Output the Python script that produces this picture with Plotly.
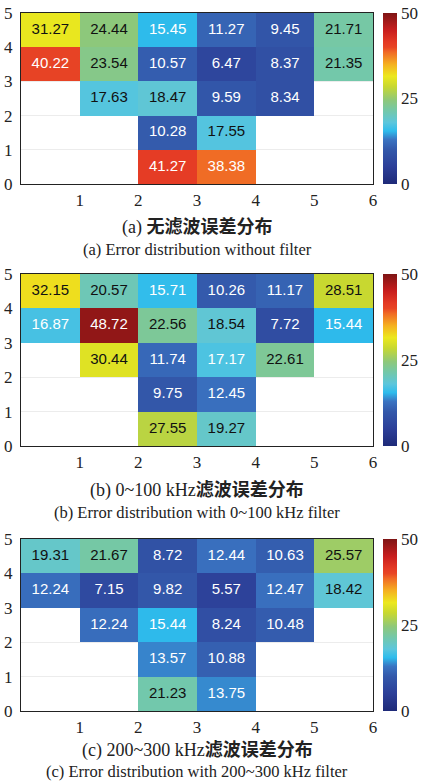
import plotly.graph_objects as go

# ---------------- data ----------------
x_edges = [0, 1, 2, 3, 4, 5, 6]
y_edges = [0, 1, 2, 3, 4, 5]
x_ticks = [1, 2, 3, 4, 5, 6]
y_ticks = [0, 1, 2, 3, 4, 5]
cbar_ticks = [0, 25, 50]

# rows listed bottom (y 0-1) to top (y 4-5)
z_a = [
    [None, None, 41.27, 38.38, None, None],
    [None, None, 10.28, 17.55, None, None],
    [None, 17.63, 18.47, 9.59, 8.34, None],
    [40.22, 23.54, 10.57, 6.47, 8.37, 21.35],
    [31.27, 24.44, 15.45, 11.27, 9.45, 21.71],
]
z_b = [
    [None, None, 27.55, 19.27, None, None],
    [None, None, 9.75, 12.45, None, None],
    [None, 30.44, 11.74, 17.17, 22.61, None],
    [16.87, 48.72, 22.56, 18.54, 7.72, 15.44],
    [32.15, 20.57, 15.71, 10.26, 11.17, 28.51],
]
z_c = [
    [None, None, 21.23, 13.75, None, None],
    [None, None, 13.57, 10.88, None, None],
    [None, 12.24, 15.44, 8.24, 10.48, None],
    [12.24, 7.15, 9.82, 5.57, 12.47, 18.42],
    [19.31, 21.67, 8.72, 12.44, 10.63, 25.57],
]
titles_lead = ["(a) ", "(b) 0~100 kHz", "(c) 200~300 kHz"]
titles_cn = ["无滤波误差分布", "滤波误差分布", "滤波误差分布"]
titles_en = ["(a) Error distribution without filter",
             "(b) Error distribution with 0~100 kHz filter",
             "(c) Error distribution with 200~300 kHz filter"]

# ---------------- style ----------------
W, H = 422, 781
colorscale = [
    [0.00, "#1e2a78"],
    [0.10, "#2c3f98"],
    [0.20, "#3358aa"],
    [0.26, "#3a74c2"],
    [0.31, "#2ebcec"],
    [0.36, "#5cc6dc"],
    [0.43, "#74c8a8"],
    [0.49, "#8ec87a"],
    [0.57, "#c8d830"],
    [0.63, "#ece81e"],
    [0.70, "#f5b020"],
    [0.77, "#f06a25"],
    [0.80, "#e84525"],
    [0.83, "#e43a25"],
    [0.90, "#c81e1e"],
    [1.00, "#7e1515"],
]
SERIF = "Liberation Serif, Times New Roman, serif"
SANS = "Liberation Sans, Arial, sans-serif"
CJK = "Liberation Serif, Noto Sans CJK SC, serif"

plot_left, plot_right = 21, 373
cbar_left = 383
panels_px = [(13, 184), (274, 446), (539, 711)]  # top, bottom in pixels
title_px = [(227, 249), (490, 512), (750, 771)]

fig = go.Figure()
panels = [z_a, z_b, z_c]
for k, z in enumerate(panels):
    top, bot = panels_px[k]
    xa = "x" if k == 0 else f"x{k+1}"
    ya = "y" if k == 0 else f"y{k+1}"
    fig.add_trace(go.Heatmap(
        z=z, x=x_edges, y=y_edges, xaxis=xa, yaxis=ya,
        colorscale=colorscale, zmin=0, zmax=50, hoverongaps=False,
        colorbar=dict(
            x=cbar_left / W, xanchor="left", xpad=0,
            y=1 - top / H, yanchor="top", ypad=0,
            lenmode="pixels", len=bot - top,
            thickness=14, outlinewidth=0,
            tickvals=cbar_ticks, ticks="", ticklen=0,
            tickfont=dict(family=SERIF, size=17, color="#222"),
        ),
    ))
    xs, ys, ts, cs = [], [], [], []
    for j, row in enumerate(z):
        for i, v in enumerate(row):
            if v is None:
                continue
            xs.append(x_edges[i] + 0.5)
            ys.append(y_edges[j] + 0.5)
            ts.append(f"{v:.2f}")
            cs.append("white" if (v < 17.3 or v > 35) else "#111")
    fig.add_trace(go.Scatter(
        x=xs, y=ys, text=ts, mode="text", xaxis=xa, yaxis=ya,
        textfont=dict(family=SANS, size=15, color=cs),
        hoverinfo="skip", showlegend=False,
    ))
    axis_common = dict(showline=True, linecolor="#222", linewidth=1.2,
                       mirror=True, zeroline=False, automargin=False,
                       ticks="", layer="below traces",
                       tickfont=dict(family=SERIF, size=17, color="#222"))
    fig.layout[("xaxis" if k == 0 else f"xaxis{k+1}")] = dict(
        domain=[plot_left / W, plot_right / W], range=[0, 6], showgrid=False,
        tickvals=x_ticks, anchor=ya, fixedrange=True, **axis_common)
    fig.layout[("yaxis" if k == 0 else f"yaxis{k+1}")] = dict(
        domain=[1 - bot / H, 1 - top / H], range=[0, 5],
        showgrid=True, gridcolor="#ececec", gridwidth=1,
        tickvals=y_ticks, anchor=xa, fixedrange=True, ticklabelstandoff=4,
        **axis_common)
    cx = (plot_left + plot_right) / 2 / W
    fig.add_annotation(text=titles_lead[k] + "<b>" + titles_cn[k] + "</b>",
                       x=cx, y=1 - title_px[k][0] / H,
                       xref="paper", yref="paper", showarrow=False,
                       xanchor="center", yanchor="middle",
                       font=dict(family=CJK, size=18, color="#222"))
    fig.add_annotation(text=titles_en[k], x=cx, y=1 - title_px[k][1] / H,
                       xref="paper", yref="paper", showarrow=False,
                       xanchor="center", yanchor="middle",
                       font=dict(family=SERIF, size=16.5, color="#222"))

fig.update_layout(
    width=W, height=H, autosize=False,
    margin=dict(l=0, r=0, t=0, b=0),
    paper_bgcolor="white", plot_bgcolor="white",
    showlegend=False,
)
fig.write_html(
    "out.html",
    config={"displayModeBar": False},
    post_script="document.body.style.margin='0';document.body.style.overflow='hidden';",
)
